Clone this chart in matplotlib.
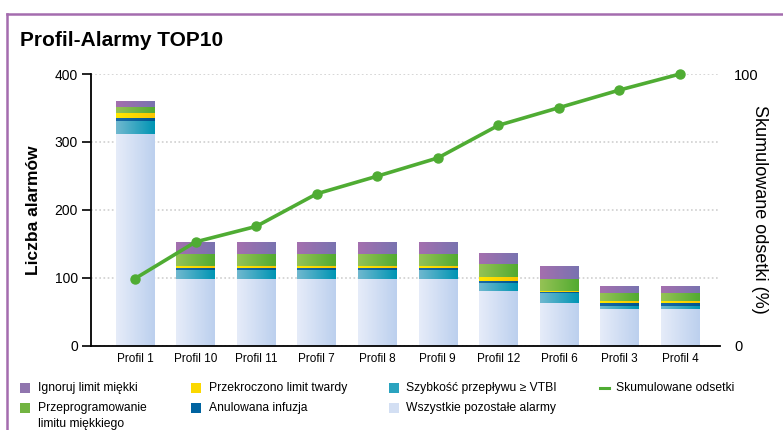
import numpy as np
import matplotlib
matplotlib.use("Agg")
import matplotlib.pyplot as plt
from matplotlib.colors import LinearSegmentedColormap
from matplotlib.patches import Rectangle
from matplotlib.lines import Line2D

plt.rcParams['font.family'] = ['Liberation Sans', 'DejaVu Sans']

# ---- data ----
categories = ['Profil 1', 'Profil 10', 'Profil 11', 'Profil 7', 'Profil 8',
              'Profil 9', 'Profil 12', 'Profil 6', 'Profil 3', 'Profil 4']
other_alarms = [312, 98, 98, 98, 98, 98, 81, 63, 54, 54]
flow_vtbi = [19, 13, 13, 13, 13, 13, 12, 14, 5, 5]
cancelled = [4, 3, 3, 3, 3, 3, 2.5, 2, 4, 4]
hard_limit = [7, 4, 4, 4, 4, 4, 6, 2, 3, 3]
reprogram_soft = [10, 17, 17, 17, 17, 17, 19, 17.5, 11, 11]
ignore_soft = [8, 18, 18, 18, 18, 18, 16.5, 19, 11, 11]
cumulative_pct = [24.7, 38.2, 43.9, 55.9, 62.4, 69.1, 81.1, 87.6, 94.1, 100]

series = [
    ("Wszystkie pozostałe alarmy", other_alarms, ('#e6ecf9', '#bcd0ee')),
    ("Szybkość przepływu ≥ VTBI", flow_vtbi, ('#70b8cf', '#0095b4')),
    ("Anulowana infuzja", cancelled, ('#1a6aa5', '#00558f')),
    ("Przekroczono limit twardy", hard_limit, ('#ffe800', '#f8c600')),
    ("Przeprogramowanie limitu miękkiego", reprogram_soft, ('#95c255', '#52ab31')),
    ("Ignoruj limit miękki", ignore_soft, ('#a46fae', '#7973b0')),
]

W, H = 783, 430
fig = plt.figure(figsize=(W / 100, H / 100), dpi=100)

def fx(px):
    return px / W

def fy(py):
    return 1 - py / H

ax_left, ax_right, ax_top, ax_bot = 91, 720, 74, 345.7
ax = fig.add_axes([fx(ax_left), fy(ax_bot), fx(ax_right - ax_left), (ax_bot - ax_top) / H])

x = np.arange(len(categories))
bw = 0.636
bottom = np.zeros(len(categories))
for name, vals, (c0, c1) in series:
    vals = np.array(vals, dtype=float)
    bars = ax.bar(x, vals, bw, bottom=bottom, color=c1, zorder=2, linewidth=0)
    cmap = LinearSegmentedColormap.from_list(name, [c0, c1])
    grad = np.linspace(0, 1, 64).reshape(1, -1)
    for p in bars.patches:
        x0, y0 = p.get_x(), p.get_y()
        im = ax.imshow(grad, extent=[x0, x0 + p.get_width(), y0, y0 + p.get_height()],
                       aspect='auto', cmap=cmap, zorder=2.1, interpolation='bilinear')
        im.set_clip_path(p)
    bottom += vals

ax.set_xlim(-0.727, 9.66)
ax.set_ylim(0, 400)
ax.set_yticks([0, 100, 200, 300, 400])
ax.set_xticks(x)
ax.set_xticklabels(categories, fontsize=8.5)
ax.tick_params(axis='x', length=0, pad=5)
ax.tick_params(axis='y', length=6.5, width=1.2, pad=3, labelsize=10)
ax.yaxis.grid(True, color='#cfcfcf', linestyle=(0, (1, 1.5)), linewidth=1.2, zorder=0)
ax.set_axisbelow(True)
for s in ['top', 'right']:
    ax.spines[s].set_visible(False)
ax.spines['left'].set_linewidth(1.3)
ax.spines['bottom'].set_linewidth(1.3)
ax.set_ylabel('Liczba alarmów', fontsize=12.5, fontweight='bold', labelpad=10)

ax2 = ax.twinx()
ax2.set_ylim(0, 100)
ax2.set_yticks([0, 100])
ax2.tick_params(axis='y', length=0, pad=10, labelsize=10.5)
for s in ax2.spines.values():
    s.set_visible(False)
ax2.plot(x, cumulative_pct, color='#4fac33', linewidth=2.6, marker='o', markersize=6.5,
         zorder=5, clip_on=False)
ax2.set_ylabel('Skumulowane odsetki (%)', fontsize=13, rotation=-90, labelpad=7)

# title
fig.text(fx(20), fy(40), 'Profil-Alarmy TOP10', fontsize=15, fontweight='bold', va='center', ha='left')

# purple frame
fig.add_artist(Line2D([fx(7), fx(7)], [0, fy(14)], color='#a46cae', linewidth=1.8))
fig.add_artist(Line2D([fx(7), 1], [fy(14), fy(14)], color='#a46cae', linewidth=1.8))

# legend (manual)
def sq(px, py, color):
    fig.add_artist(Rectangle((fx(px), fy(py + 5)), 10 / W, 10 / H, transform=fig.transFigure,
                             facecolor=color, edgecolor='none'))

def lbl(px, py, s):
    fig.text(fx(px), fy(py), s, fontsize=8.7, va='center', ha='left')

row1, row2 = 388, 408
sq(20, row1, '#9075ae'); lbl(38, row1, 'Ignoruj limit miękki')
sq(20, row2, '#72b441'); lbl(38, row2, 'Przeprogramowanie'); lbl(38, 424, 'limitu miękkiego')
sq(191, row1, '#fbd800'); lbl(209, row1, 'Przekroczono limit twardy')
sq(191, row2, '#0063a0'); lbl(209, row2, 'Anulowana infuzja')
sq(389, row1, '#2aa3bf'); lbl(406, row1, 'Szybkość przepływu ≥ VTBI')
sq(389, row2, '#d3dff3'); lbl(406, row2, 'Wszystkie pozostałe alarmy')
fig.add_artist(Line2D([fx(600), fx(609)], [fy(row1), fy(row1)], color='#4fac33', linewidth=2.2))
lbl(616, row1, 'Skumulowane odsetki')

fig.savefig('out.png', dpi=100)
